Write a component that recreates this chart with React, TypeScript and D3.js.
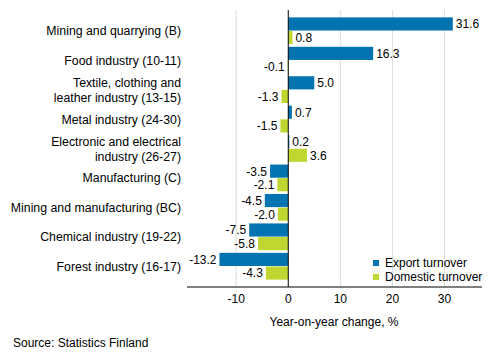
import React from 'react';
import * as d3 from 'd3';

const categories = [
  ['Mining and quarrying (B)'],
  ['Food industry (10-11)'],
  ['Textile, clothing and', 'leather industry (13-15)'],
  ['Metal industry (24-30)'],
  ['Electronic and electrical', 'industry (26-27)'],
  ['Manufacturing (C)'],
  ['Mining and manufacturing (BC)'],
  ['Chemical industry (19-22)'],
  ['Forest industry (16-17)'],
];
const exportTurnover = [31.6, 16.3, 5.0, 0.7, 0.2, -3.5, -4.5, -7.5, -13.2];
const domesticTurnover = [0.8, -0.1, -1.3, -1.5, 3.6, -2.1, -2.0, -5.8, -4.3];
const seriesNames = ['Export turnover', 'Domestic turnover'];
const xTicks = [-10, 0, 10, 20, 30];

const colors = ['#0073b0', '#bfd730'];
const font = 'Arial, "Liberation Sans", sans-serif';

const App: React.FC = () => {
  const width = 493;
  const height = 360;
  const plotTop = 10;
  const plotBottom = 287;

  const x = d3.scaleLinear().domain([-19.44, 37.2]).range([187, 482]);
  const y = d3.scaleBand<number>()
    .domain(d3.range(categories.length))
    .range([16.3, 281.2]);
  const inner = d3.scaleBand<number>()
    .domain([0, 1])
    .range([0, y.bandwidth()])
    .paddingOuter(0.08)
    .paddingInner(0);

  const series = [exportTurnover, domesticTurnover];

  return (
    <svg width={width} height={height} style={{ position: 'absolute', left: 0, top: 0 }} fontFamily={font}>
      {/* grid */}
      {xTicks.filter(t => t !== 0).map(t => (
        <line key={t} x1={x(t)} x2={x(t)} y1={plotTop} y2={plotBottom} stroke="#dcdcdc" strokeWidth={1} />
      ))}
      {/* bars */}
      {series.map((vals, si) =>
        vals.map((v, i) => {
          const y0 = (y(i) ?? 0) + (inner(si) ?? 0);
          const h = inner.bandwidth();
          const x0 = Math.min(x(0), x(v));
          const w = Math.abs(x(v) - x(0));
          const pos = v >= 0;
          return (
            <g key={`${si}-${i}`}>
              <rect x={x0} y={y0} width={Math.max(w, 0.6)} height={h - 0.5} fill={colors[si]} />
              <text
                x={pos ? x(v) + 3 : x(v) - 3}
                y={y0 + h / 2}
                dy="0.35em"
                textAnchor={pos ? 'start' : 'end'}
                fontSize={12}
                fill="#000"
              >
                {v.toFixed(1)}
              </text>
            </g>
          );
        })
      )}
      {/* zero line */}
      <line x1={x(0)} x2={x(0)} y1={plotTop} y2={plotBottom} stroke="#000" strokeWidth={1} />
      {/* x axis */}
      <line x1={187} x2={482} y1={plotBottom} y2={plotBottom} stroke="#000" strokeWidth={1} />
      {xTicks.map(t => (
        <text key={t} x={x(t)} y={303} textAnchor="middle" fontSize={12} fill="#000">{t}</text>
      ))}
      <text x={334} y={326} textAnchor="middle" fontSize={12} fill="#000">Year-on-year change, %</text>
      {/* category labels */}
      {categories.map((lines, i) => {
        const cy = (y(i) ?? 0) + y.bandwidth() / 2;
        const start = cy - ((lines.length - 1) * 15) / 2;
        return (
          <text key={i} textAnchor="end" fontSize={12.3} fill="#000">
            {lines.map((l, j) => (
              <tspan key={j} x={181} y={start + j * 15} dy="0.35em">{l}</tspan>
            ))}
          </text>
        );
      })}
      {/* legend */}
      {seriesNames.map((name, i) => (
        <g key={name} transform={`translate(373, ${260 + i * 14})`}>
          <rect x={0} y={0} width={6} height={6} fill={colors[i]} />
          <text x={12} y={3} dy="0.35em" fontSize={12} fill="#000">{name}</text>
        </g>
      ))}
      <text x={13} y={347} fontSize={12} fill="#000">Source: Statistics Finland</text>
    </svg>
  );
};

export default App;
